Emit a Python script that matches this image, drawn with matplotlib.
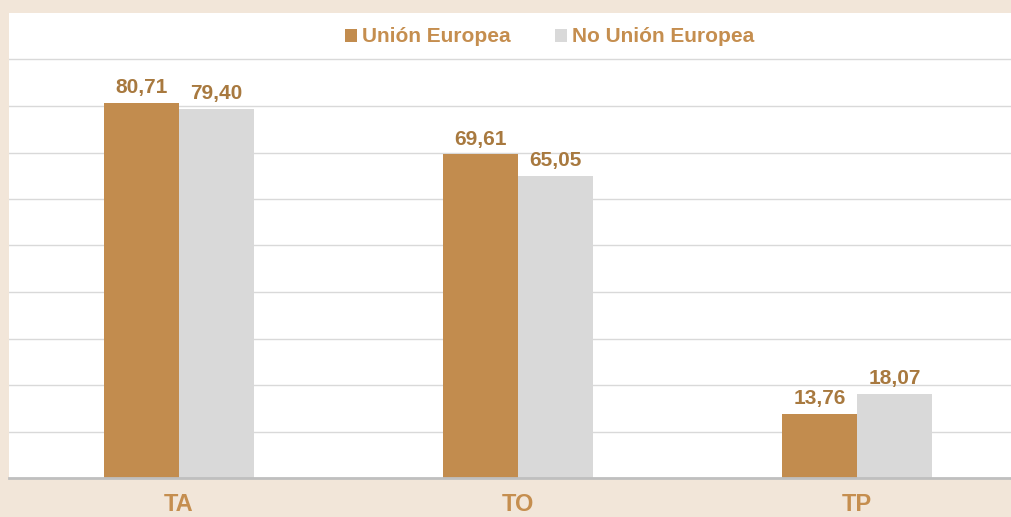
import numpy as np
import matplotlib
matplotlib.use("Agg")
import matplotlib.pyplot as plt
from matplotlib.patches import Patch

# data
categories = ["TA", "TO", "TP"]
series_names = ["Unión Europea", "No Unión Europea"]
ue_values = [80.71, 69.61, 13.76]
no_ue_values = [79.40, 65.05, 18.07]

bar_colors = ["#C28C4E", "#D9D9D9"]
beige = "#F2E6D9"
label_color = "#A8793F"
text_color = "#C58E4F"

plt.rcParams['font.family'] = ['Liberation Sans', 'DejaVu Sans']

fig = plt.figure(figsize=(10.11, 5.17), dpi=100, facecolor=beige)
W, H = 1011, 517
ax = fig.add_axes([9 / W, 39 / H, 1 - 9 / W, (478 - 13) / H])
ax.set_facecolor("white")

x = np.arange(len(categories))
width = 0.221

for i, (vals, color) in enumerate(zip([ue_values, no_ue_values], bar_colors)):
    offset = (i - 0.5) * width
    bars = ax.bar(x + offset, vals, width, color=color, zorder=3)
    for b, v in zip(bars, vals):
        ax.annotate(f"{v:.2f}".replace(".", ","),
                    (b.get_x() + b.get_width() / 2, b.get_height()),
                    xytext=(0, 4), textcoords="offset points",
                    ha="center", va="bottom", fontsize=15,
                    fontweight="bold", color=label_color)

ax.set_ylim(0, 100)
ax.set_xlim(-0.5, 2 + (1011 - 857) / 339)
ax.set_yticks(np.arange(10, 100, 10))
ax.yaxis.grid(True, color="#D9D9D9", linewidth=1, zorder=0)
ax.tick_params(axis="y", left=False, labelleft=False)
ax.set_xticks(x)
ax.set_xticklabels(categories, fontsize=17, fontweight="bold", color=text_color)
ax.tick_params(axis="x", length=0, pad=11)

for s in ["top", "right", "left"]:
    ax.spines[s].set_visible(False)
ax.spines["bottom"].set_color("#BFBFBF")
ax.spines["bottom"].set_linewidth(2)
ax.spines["bottom"].set_zorder(4)

handles = [Patch(facecolor=c, edgecolor="none") for c in bar_colors]
leg = fig.legend(handles, series_names, loc="center",
                 bbox_to_anchor=(549.5 / W, 1 - 37 / H), ncol=2, frameon=False,
                 handlelength=0.58, handleheight=0.58, handletextpad=0.25,
                 columnspacing=2.1, prop={"size": 15, "weight": "bold"})
for t in leg.get_texts():
    t.set_color(text_color)

fig.savefig("out.png", dpi=100, facecolor=beige)
